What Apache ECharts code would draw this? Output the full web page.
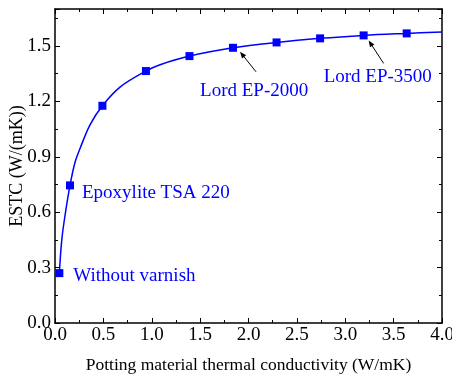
<!DOCTYPE html>
<html><head><meta charset="utf-8">
<script src="https://cdn.jsdelivr.net/npm/echarts@6/dist/echarts.min.js"></script>
<style>html,body{margin:0;padding:0;background:#fff}#c{width:452px;height:376px}</style>
</head><body><div id="c"></div>
<script>
// Data
const pointX = [0.045, 0.155, 0.49, 0.94, 1.39, 1.84, 2.29, 2.74, 3.19, 3.635];
const pointY = [0.27, 0.745, 1.176, 1.364, 1.445, 1.49, 1.519, 1.541, 1.557, 1.568];
const curveX = [0.045, 0.07, 0.107, 0.155, 0.207, 0.259, 0.362, 0.49, 0.672, 0.94, 1.086, 1.39, 1.84, 2.29, 2.74, 3.19, 3.635, 4.0];
const curveY = [0.27, 0.45, 0.594, 0.745, 0.87, 0.945, 1.073, 1.176, 1.277, 1.364, 1.398, 1.445, 1.49, 1.519, 1.541, 1.557, 1.568, 1.576];
const xTicks = ['0.0','0.5','1.0','1.5','2.0','2.5','3.0','3.5','4.0'];
const yTicks = ['0.0','0.3','0.6','0.9','1.2','1.5'];
const annotations = ['Without varnish', 'Epoxylite TSA 220', 'Lord EP-2000', 'Lord EP-3500'];
const annotatedIdx = [0, 1, 5, 8];

const FONT = 'Liberation Serif';
const BLUE = '#0000ff';
const chart = echarts.init(document.getElementById('c'), null, {renderer: 'canvas'});

const axisCommon = {
  axisLine: {show: true, onZero: false, lineStyle: {color: '#000', width: 1.5}},
  axisTick: {show: true, inside: true, length: 5, lineStyle: {color: '#000', width: 1}},
  minorTick: {show: true, splitNumber: 2, length: 3, lineStyle: {color: '#000', width: 1}},
  splitLine: {show: false}
};

chart.setOption({
  animation: false,
  grid: {left: 55, right: 10, top: 9, bottom: 53, containLabel: false, outerBoundsMode: 'none'},
  xAxis: [
    Object.assign({}, axisCommon, {
      type: 'value', min: 0, max: 4, interval: 0.5, position: 'bottom',
      name: 'Potting material thermal conductivity (W/mK)', nameLocation: 'middle', nameGap: 33,
      nameTextStyle: {fontFamily: FONT, fontSize: 17.5, color: '#000'},
      axisLabel: {fontFamily: FONT, fontSize: 19, color: '#000', margin: 3,
        formatter: v => xTicks[Math.round(v / 0.5)] || ''}
    }),
    Object.assign({}, axisCommon, {
      type: 'value', min: 0, max: 4, interval: 0.5, position: 'top',
      axisLabel: {show: false}
    })
  ],
  yAxis: [
    Object.assign({}, axisCommon, {
      type: 'value', min: 0, max: 1.7, interval: 0.3, position: 'left',
      name: 'ESTC (W/(mK))', nameLocation: 'middle', nameGap: 29, nameMoveOverlap: false,
      nameTextStyle: {fontFamily: FONT, fontSize: 18, color: '#000'},
      axisLabel: {fontFamily: FONT, fontSize: 19, color: '#000', margin: 4, showMaxLabel: false,
        formatter: v => { const i = Math.round(v / 0.3); return Math.abs(i * 0.3 - v) < 1e-6 ? (yTicks[i] || '') : ''; }}
    }),
    Object.assign({}, axisCommon, {
      type: 'value', min: 0, max: 1.7, interval: 0.3, position: 'right',
      axisLabel: {show: false}
    })
  ],
  series: [
    {
      type: 'line', data: curveX.map((x, i) => [x, curveY[i]]),
      smooth: 0.35, showSymbol: false, symbol: 'none',
      lineStyle: {color: BLUE, width: 1.5}, z: 2
    },
    {
      type: 'scatter', data: pointX.map((x, i) => [x, pointY[i]]),
      symbol: 'rect', symbolSize: 8, itemStyle: {color: BLUE, opacity: 1}, z: 3
    }
  ]
});

// Annotations placed relative to their data points
const px = annotatedIdx.map(i => chart.convertToPixel({xAxisIndex: 0, yAxisIndex: 0}, [pointX[i], pointY[i]]));
const txt = (s, x, y) => ({type: 'text', x, y, style: {text: s, fill: BLUE, fontFamily: FONT, fontSize: 19, verticalAlign: 'middle', align: 'left'}});
const arrow = (p, dx1, dy1, dx2, dy2) => {
  const hx = p[0] + dx1, hy = p[1] + dy1, tx = p[0] + dx2, ty = p[1] + dy2;
  const ang = Math.atan2(hy - ty, hx - tx), L = 7, W = 0.38;
  return [
    {type: 'line', shape: {x1: tx, y1: ty, x2: hx - Math.cos(ang) * 4, y2: hy - Math.sin(ang) * 4}, style: {stroke: '#000', lineWidth: 1}},
    {type: 'polygon', shape: {points: [[hx, hy], [hx - L * Math.cos(ang - W), hy - L * Math.sin(ang - W)], [hx - L * Math.cos(ang + W), hy - L * Math.sin(ang + W)]]}, style: {fill: '#000'}}
  ];
};
chart.setOption({
  graphic: [
    txt(annotations[0], px[0][0] + 14, px[0][1] + 3),
    txt(annotations[1], px[1][0] + 12, px[1][1] + 8),
    txt(annotations[2], px[2][0] - 33, px[2][1] + 43),
    txt(annotations[3], px[3][0] - 40, px[3][1] + 42)
  ].concat(arrow(px[2], 7, 4, 23, 24)).concat(arrow(px[3], 5, 5, 20, 28))
});
</script></body></html>
